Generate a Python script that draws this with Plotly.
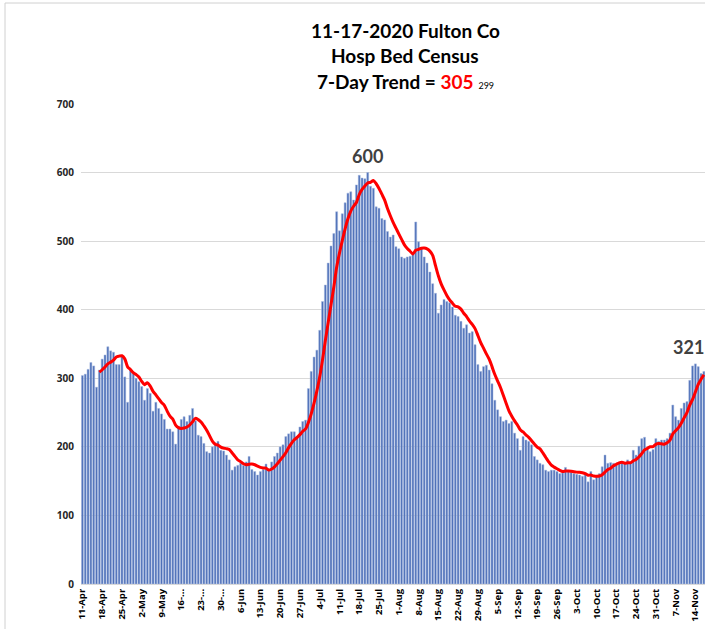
import plotly.graph_objects as go

# Daily hospital bed census, 11-Apr-2020 .. 17-Nov-2020 (one value per day)
census = [
    304, 306, 313, 323, 318, 287, 312, 328, 334, 346, 340, 338, 320, 320,
    332, 302, 265, 312, 307, 300, 295, 288, 268, 285, 278, 252, 265, 256,
    248, 240, 226, 226, 222, 204, 230, 240, 244, 237, 246, 256, 238, 217,
    215, 205, 193, 191, 200, 206, 208, 195, 194, 188, 181, 166, 171, 173,
    176, 173, 178, 186, 167, 164, 159, 164, 167, 175, 167, 178, 186, 191,
    200, 203, 215, 219, 222, 222, 215, 229, 237, 239, 285, 310, 331, 341,
    370, 412, 436, 468, 493, 511, 543, 515, 540, 556, 570, 572, 560, 582,
    596, 592, 591, 600, 580, 577, 550, 548, 533, 531, 514, 506, 509, 492,
    489, 477, 475, 477, 478, 482, 528, 499, 489, 477, 468, 455, 438, 424,
    395, 407, 415, 412, 410, 404, 392, 390, 383, 373, 378, 366, 368, 349,
    320, 310, 317, 319, 312, 292, 268, 254, 244, 237, 239, 234, 237, 220,
    212, 195, 215, 210, 208, 203, 186, 181, 176, 174, 166, 164, 166, 166,
    164, 161, 162, 170, 165, 163, 161, 160, 159, 157, 162, 149, 164, 152,
    157, 161, 171, 188, 176, 177, 176, 173, 176, 178, 177, 181, 177, 195,
    188, 201, 212, 214, 198, 193, 196, 212, 208, 210, 210, 212, 220, 261,
    244, 239, 256, 264, 266, 297, 318, 321, 317, 307, 310,
]
days = list(range(len(census)))

tick_labels = [
    "11-Apr", "18-Apr", "25-Apr", "2-May", "9-May", "16-...", "23-...", "30-...",
    "6-Jun", "13-Jun", "20-Jun", "27-Jun", "4-Jul", "11-Jul", "18-Jul", "25-Jul",
    "1-Aug", "8-Aug", "15-Aug", "22-Aug", "29-Aug", "5-Sep", "12-Sep", "19-Sep",
    "26-Sep", "3-Oct", "10-Oct", "17-Oct", "24-Oct", "31-Oct", "7-Nov", "14-Nov",
]
tick_days = [7 * i for i in range(len(tick_labels))]

title_date = "11-17-2020"
title_place = "Fulton Co"
title_metric = "Hosp Bed Census"

# 7-day trailing average
trend_x = []
trend_y = []
for i in range(6, len(census)):
    trend_x.append(days[i])
    trend_y.append(sum(census[i - 6:i + 1]) / 7.0)

trend_now = round(trend_y[-1])
trend_prev = round(trend_y[-2])
peak_idx = census.index(max(census))
recent_max_idx = max(range(200, len(census)), key=lambda k: census[k])

L, R, T, B = 81, 0, 104, 45
PW, PH = 705 - L - R, 629 - T - B

fig = go.Figure()
fig.add_trace(go.Bar(
    x=days, y=census,
    marker=dict(color="#4e70b8", line=dict(color="#a9bbe0", width=0.5)),
    hoverinfo="x+y",
))
fig.add_trace(go.Scatter(
    x=trend_x, y=trend_y, mode="lines",
    line=dict(color="#ff0000", width=3, shape="spline", smoothing=0.8),
))

font_title = "Lato, 'Open Sans', sans-serif"
fig.update_layout(
    width=705, height=629,
    margin=dict(l=L, r=R, t=T, b=B, autoexpand=False),
    paper_bgcolor="white", plot_bgcolor="white",
    showlegend=False,
    bargap=0.3,
    font=dict(family="'Open Sans', 'DejaVu Sans', sans-serif", color="#000"),
    xaxis=dict(
        range=[-0.5, 220.4], automargin=False,
        tickmode="array", tickvals=tick_days,
        ticktext=["<b>%s</b>" % t for t in tick_labels],
        tickangle=-90, tickfont=dict(size=9.5, color="#000", family="'Open Sans', sans-serif"),
        showgrid=False, zeroline=False,
        showline=True, linecolor="#d9d9d9", linewidth=1,
        ticks="", fixedrange=True,
    ),
    yaxis=dict(
        range=[0, 700], dtick=100, automargin=False,
        tickfont=dict(size=10, color="#262626", family="'Open Sans', sans-serif"),
        tickprefix="<b>", ticksuffix="</b>",
        showgrid=True, gridcolor="#d9d9d9", gridwidth=1,
        zeroline=False, showline=False, ticks="",
        ticklabelstandoff=6,
    ),
)

title_lines = [
    "<b>%s %s</b>" % (title_date, title_place),
    "<b>%s</b>" % title_metric,
    "<b>7-Day Trend = <span style='color:#ff0000'>%d</span></b> <span style='font-size:9px'>%d</span>"
    % (trend_now, trend_prev),
]
for txt, yy in zip(title_lines, [30, 56, 82]):
    fig.add_annotation(
        text=txt, xref="paper", yref="paper",
        x=(405 - L) / PW, y=(629 - B - yy) / PH,
        showarrow=False, xanchor="center", yanchor="middle",
        font=dict(size=19, color="#000", family=font_title),
    )

for idx, xs in [(peak_idx, 0), (recent_max_idx, -7)]:
    fig.add_annotation(
        x=days[idx], y=census[idx], text="<b>%d</b>" % census[idx],
        showarrow=False, yanchor="bottom", yshift=4, xshift=xs,
        font=dict(size=18, color="#404040", family=font_title),
    )

# thin chart-area border (top and left)
bx = (5 - L) / PW
fig.add_shape(type="line", xref="paper", yref="paper",
              x0=bx, x1=1.0, y0=(629 - B - 3) / PH, y1=(629 - B - 3) / PH,
              line=dict(color="#d0d0d0", width=1))
fig.add_shape(type="line", xref="paper", yref="paper",
              x0=bx, x1=bx, y0=-B / PH, y1=(629 - B - 3) / PH,
              line=dict(color="#d0d0d0", width=1))

fig.write_html(
    "out.html",
    config={"displayModeBar": False},
    post_script="document.body.style.margin='0px';document.body.style.overflow='hidden';",
)
